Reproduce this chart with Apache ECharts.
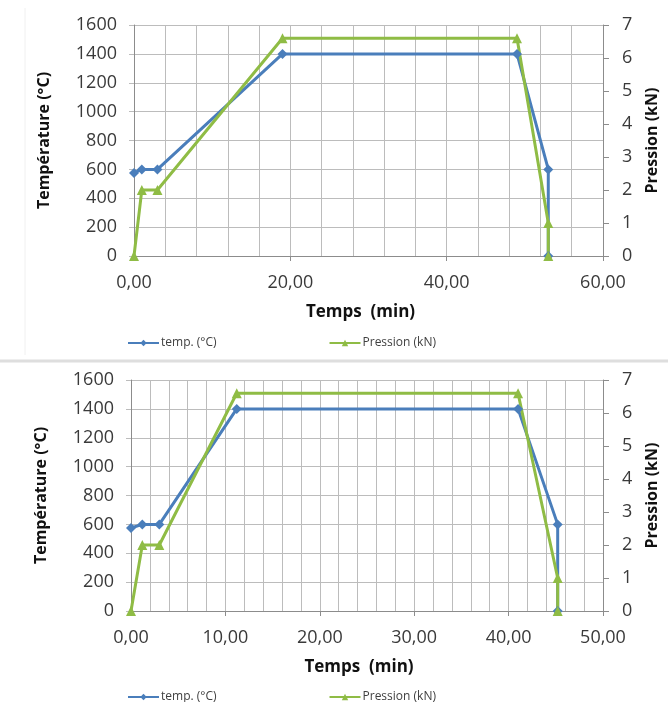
<!DOCTYPE html>
<html><head><meta charset="utf-8">
<script src="https://cdn.jsdelivr.net/npm/echarts@6/dist/echarts.min.js"></script>
<style>html,body{margin:0;padding:0;background:#fff}#c{width:668px;height:702px}</style>
</head><body><div id="c"></div>
<script>
// Top chart data
const timeTop = [0, 1, 3, 19, 49, 53, 53];
const tempTop = [575, 600, 600, 1400, 1400, 600, 0];
const pressTop = [0, 2, 2, 6.6, 6.6, 1, 0];
// Bottom chart data
const timeBot = [0, 1.2, 3, 11.2, 41, 45.2, 45.2];
const tempBot = [575, 600, 600, 1400, 1400, 600, 0];
const pressBot = [0, 2, 2, 6.6, 6.6, 1, 0];
// Axis settings
const xMaxTop = 60, xStepTop = 20;
const xMaxBot = 50, xStepBot = 10;
const tempMax = 1600, tempStep = 200;
const pressMax = 7, pressStep = 1;
const nameTemp = 'temp. (°C)', namePress = 'Pression (kN)';

const BLUE = '#4a7ebb', GREEN = '#8fbc45';
const GRID = '#bcbcbc', AXIS = '#8c8c8c', TXT = '#3a3a3a';
const FONT = 'Open Sans';

function zip(a, b) { return a.map((v, i) => [v, b[i]]); }
function fmt(v) { return v.toFixed(2).replace('.', ','); }
function plain(v) { return String(v); }

function xAxis(gi, max, step) {
  return {
    type: 'value', gridIndex: gi, min: 0, max: max, interval: step,
    name: 'Temps  (min)', nameLocation: 'middle', nameGap: 48,
    nameTextStyle: { fontFamily: FONT, fontSize: 17, fontWeight: 'bold', color: '#111', padding: [0, 16, 0, 0] },
    axisLine: { lineStyle: { color: AXIS, width: 1 } },
    axisTick: { show: true, length: 5, lineStyle: { color: AXIS } },
    minorTick: { show: false, splitNumber: 5 },
    axisLabel: { formatter: fmt, fontFamily: FONT, fontSize: 18, color: TXT, margin: 18 },
    splitLine: { show: true, lineStyle: { color: GRID, width: 1 } },
    minorSplitLine: { show: true, lineStyle: { color: GRID, width: 1 } }
  };
}
function yLeft(gi) {
  return {
    type: 'value', gridIndex: gi, min: 0, max: tempMax, interval: tempStep, position: 'left',
    name: 'Température (°C)', nameLocation: 'middle', nameGap: 82, nameRotate: 90,
    nameTextStyle: { fontFamily: FONT, fontSize: 16, fontWeight: 'bold', color: '#111' },
    axisLine: { show: true, lineStyle: { color: AXIS } },
    axisTick: { show: true, length: 5, lineStyle: { color: GRID } },
    axisLabel: { formatter: plain, fontFamily: FONT, fontSize: 18, color: TXT, margin: 17 },
    splitLine: { show: true, lineStyle: { color: GRID, width: 1 } }
  };
}
function yRight(gi) {
  return {
    type: 'value', gridIndex: gi, min: 0, max: pressMax, interval: pressStep, position: 'right',
    name: 'Pression (kN)', nameLocation: 'middle', nameGap: 41, nameRotate: 90,
    nameTextStyle: { fontFamily: FONT, fontSize: 16, fontWeight: 'bold', color: '#111' },
    axisLine: { show: true, lineStyle: { color: AXIS } },
    axisTick: { show: true, length: 6, lineStyle: { color: AXIS } },
    axisLabel: { formatter: plain, fontFamily: FONT, fontSize: 18, color: TXT, margin: 19 },
    splitLine: { show: false }
  };
}
function series(name, xi, yi, data, color, symbol, size) {
  return {
    name: name, type: 'line', xAxisIndex: xi, yAxisIndex: yi, data: data,
    symbol: symbol, symbolSize: size, showSymbol: true,
    lineStyle: { color: color, width: 3 }, itemStyle: { color: color },
    animation: false
  };
}
function legend(top) {
  return {
    top: top, left: 122, itemGap: 112, itemWidth: 31, itemHeight: 8,
    textStyle: { fontFamily: FONT, fontSize: 12, color: '#404040', padding: [0, 0, 0, -3] },
    data: [nameTemp, namePress]
  };
}

const chart = echarts.init(document.getElementById('c'), null, { renderer: 'canvas' });
chart.setOption({
  backgroundColor: '#fff',
  animation: false,
  grid: [
    { left: 134, right: 55, top: 25, height: 231 },
    { left: 131, right: 57, top: 380, height: 231 }
  ],
  xAxis: [xAxis(0, xMaxTop, xStepTop), xAxis(1, xMaxBot, xStepBot)],
  yAxis: [yLeft(0), yRight(0), yLeft(1), yRight(1)],
  legend: [legend(332), legend(686)],
  graphic: [
    { type: 'line', shape: { x1: 0, y1: 361, x2: 668, y2: 361 }, style: { stroke: '#dedede', lineWidth: 3 } },
    { type: 'line', shape: { x1: 25, y1: 8, x2: 25, y2: 355 }, style: { stroke: '#f0f0f0', lineWidth: 1 } }
  ],
  series: [
    series(nameTemp, 0, 0, zip(timeTop, tempTop), BLUE, 'diamond', 10),
    series(namePress, 0, 1, zip(timeTop, pressTop), GREEN, 'triangle', 10),
    series(nameTemp, 1, 2, zip(timeBot, tempBot), BLUE, 'diamond', 10),
    series(namePress, 1, 3, zip(timeBot, pressBot), GREEN, 'triangle', 10)
  ]
});
</script></body></html>
